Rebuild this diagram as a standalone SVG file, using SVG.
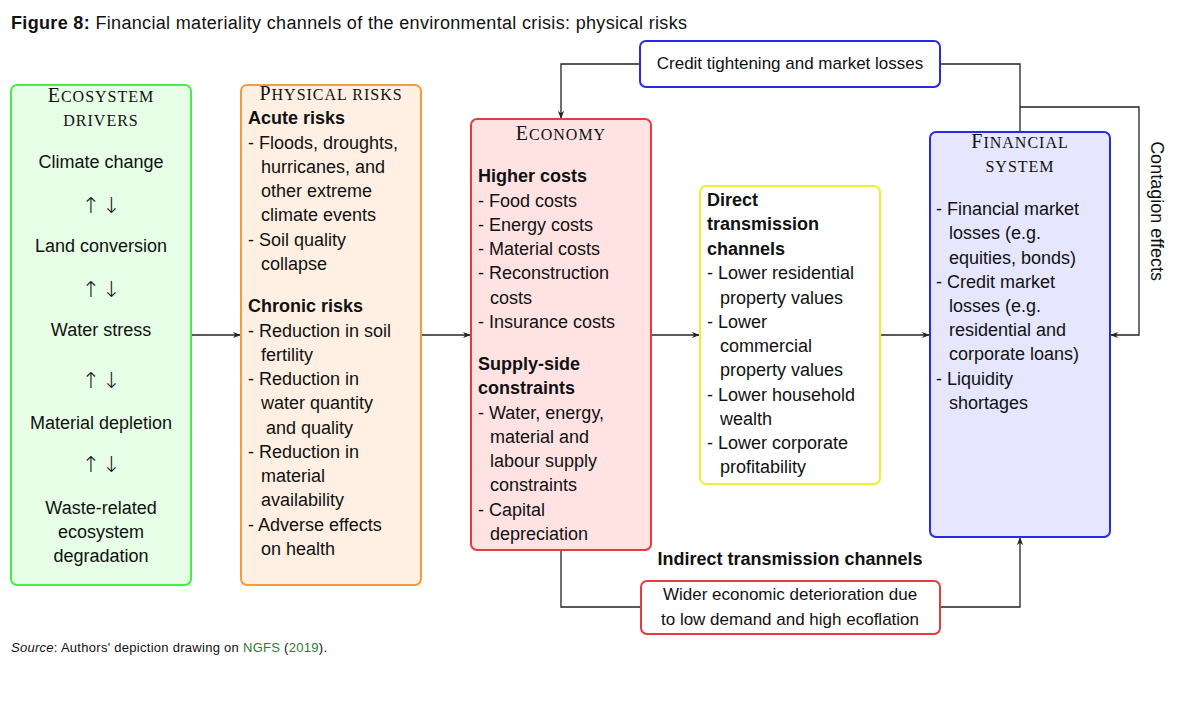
<svg xmlns="http://www.w3.org/2000/svg" width="1188" height="708" viewBox="0 0 1188 708">
<style>
text{font-family:"Liberation Sans",Arial,sans-serif;font-size:18px;fill:#111}
.b{font-weight:bold}
.sc{font-family:"Liberation Serif","Times New Roman",serif;font-size:20px;letter-spacing:1px}
.sc tspan.s{font-size:16px}
.m{text-anchor:middle}
.ar{font-family:"DejaVu Sans",sans-serif;font-size:22px;font-weight:200;letter-spacing:2px}
.box{stroke-width:2}
.conn{fill:none;stroke:#222;stroke-width:1.3}
</style>
<defs>
<marker id="ah" viewBox="0 0 10 10" refX="9" refY="5" markerWidth="8" markerHeight="8" markerUnits="userSpaceOnUse" orient="auto">
<path d="M0,1 L10,5 L0,9 L3,5 Z" fill="#222"/>
</marker>
</defs>
<rect width="1188" height="708" fill="#fff"/>
<text x="11" y="29" style="font-size:18px" textLength="676" lengthAdjust="spacing"><tspan class="b">Figure 8:</tspan> Financial materiality channels of the environmental crisis: physical risks</text>

<g id="connectors">
<line class="conn" x1="191" y1="335" x2="240" y2="335" marker-end="url(#ah)"/>
<line class="conn" x1="421" y1="335" x2="470" y2="335" marker-end="url(#ah)"/>
<line class="conn" x1="651" y1="335" x2="699" y2="335" marker-end="url(#ah)"/>
<line class="conn" x1="880" y1="335" x2="929" y2="335" marker-end="url(#ah)"/>
<polyline class="conn" points="640,64 561,64 561,118" marker-end="url(#ah)"/>
<polyline class="conn" points="940,64 1020,64 1020,132"/>
<polyline class="conn" points="1020,107 1139,107 1139,335 1111,335" marker-end="url(#ah)"/>
<polyline class="conn" points="561,550 561,607 641,607"/>
<polyline class="conn" points="940,607 1020,607 1020,538" marker-end="url(#ah)"/>
<text transform="translate(1151,211) rotate(90)" class="m">Contagion effects</text>
</g>

<g id="ecosystem">
<rect class="box" x="11" y="85" width="180" height="500" rx="6" fill="#e6ffe6" stroke="#44ee44"/>
<text class="sc m" x="101" y="102">E<tspan class="s">COSYSTEM</tspan></text>
<text class="sc m" x="101" y="126"><tspan class="s">DRIVERS</tspan></text>
<text class="m" x="101" y="168">Climate change</text>
<text class="m ar" x="102" y="213">↑↓</text>
<text class="m" x="101" y="252">Land conversion</text>
<text class="m ar" x="102" y="297">↑↓</text>
<text class="m" x="101" y="336">Water stress</text>
<text class="m ar" x="102" y="388">↑↓</text>
<text class="m" x="101" y="429">Material depletion</text>
<text class="m ar" x="102" y="472">↑↓</text>
<text class="m" x="101" y="514">Waste-related</text>
<text class="m" x="101" y="538">ecosystem</text>
<text class="m" x="101" y="562">degradation</text>
</g>

<g id="physical">
<rect class="box" x="241" y="85" width="180" height="500" rx="6" fill="#fff0e3" stroke="#f39c3d"/>
<text class="sc m" x="331" y="100">P<tspan class="s">HYSICAL RISKS</tspan></text>
<text class="b" x="248" y="124">Acute risks</text>
<text x="248" y="149">- Floods, droughts,</text>
<text x="261" y="173">hurricanes, and</text>
<text x="261" y="197">other extreme</text>
<text x="261" y="221">climate events</text>
<text x="248" y="246">- Soil quality</text>
<text x="261" y="270">collapse</text>
<text class="b" x="248" y="312">Chronic risks</text>
<text x="248" y="337">- Reduction in soil</text>
<text x="261" y="361">fertility</text>
<text x="248" y="385">- Reduction in</text>
<text x="261" y="409">water quantity</text>
<text x="266" y="434">and quality</text>
<text x="248" y="458">- Reduction in</text>
<text x="261" y="482">material</text>
<text x="261" y="506">availability</text>
<text x="248" y="531">- Adverse effects</text>
<text x="261" y="555">on health</text>
</g>

<g id="economy">
<rect class="box" x="471" y="119" width="180" height="431" rx="6" fill="#ffe3e3" stroke="#e8393d"/>
<text class="sc m" x="561" y="140">E<tspan class="s">CONOMY</tspan></text>
<text class="b" x="478" y="182">Higher costs</text>
<text x="478" y="207">- Food costs</text>
<text x="478" y="231">- Energy costs</text>
<text x="478" y="255">- Material costs</text>
<text x="478" y="279">- Reconstruction</text>
<text x="490" y="304">costs</text>
<text x="478" y="328">- Insurance costs</text>
<text class="b" x="478" y="370">Supply-side</text>
<text class="b" x="478" y="394">constraints</text>
<text x="478" y="419">- Water, energy,</text>
<text x="490" y="443">material and</text>
<text x="490" y="467">labour supply</text>
<text x="490" y="491">constraints</text>
<text x="478" y="516">- Capital</text>
<text x="490" y="540">depreciation</text>
</g>

<g id="direct">
<rect class="box" x="700" y="186" width="180" height="298" rx="6" fill="#fff" stroke="#eeee33"/>
<text class="b" x="707" y="206">Direct</text>
<text class="b" x="707" y="230">transmission</text>
<text class="b" x="707" y="255">channels</text>
<text x="707" y="279">- Lower residential</text>
<text x="720" y="304">property values</text>
<text x="707" y="328">- Lower</text>
<text x="720" y="352">commercial</text>
<text x="720" y="376">property values</text>
<text x="707" y="401">- Lower household</text>
<text x="720" y="425">wealth</text>
<text x="707" y="449">- Lower corporate</text>
<text x="720" y="473">profitability</text>
</g>

<g id="financial">
<rect class="box" x="930" y="132" width="180" height="405" rx="6" fill="#e6e6ff" stroke="#2a2ae0"/>
<text class="sc m" x="1020" y="148">F<tspan class="s">INANCIAL</tspan></text>
<text class="sc m" x="1020" y="172"><tspan class="s">SYSTEM</tspan></text>
<text x="936" y="215">- Financial market</text>
<text x="949" y="239">losses (e.g.</text>
<text x="949" y="264">equities, bonds)</text>
<text x="936" y="288">- Credit market</text>
<text x="949" y="312">losses (e.g.</text>
<text x="949" y="336">residential and</text>
<text x="949" y="360">corporate loans)</text>
<text x="936" y="385">- Liquidity</text>
<text x="949" y="409">shortages</text>
</g>

<g id="credit">
<rect class="box" x="640" y="41" width="300" height="46" rx="6" fill="#fff" stroke="#2a2ae0"/>
<text class="m" x="790" y="69" style="font-size:17px">Credit tightening and market losses</text>
</g>

<g id="indirect">
<text class="b m" x="790" y="565">Indirect transmission channels</text>
<rect class="box" x="641" y="581" width="299" height="53" rx="6" fill="#fff" stroke="#e8393d"/>
<text class="m" x="790" y="600" style="font-size:17px">Wider economic deterioration due</text>
<text class="m" x="790" y="625" style="font-size:17px">to low demand and high ecoflation</text>
</g>

<text x="11" y="652" style="font-size:13px" textLength="316" lengthAdjust="spacing"><tspan font-style="italic">Source</tspan>: Authors' depiction drawing on <tspan style="fill:#2e7d32">NGFS</tspan> (<tspan style="fill:#2e7d32">2019</tspan>).</text>
</svg>
